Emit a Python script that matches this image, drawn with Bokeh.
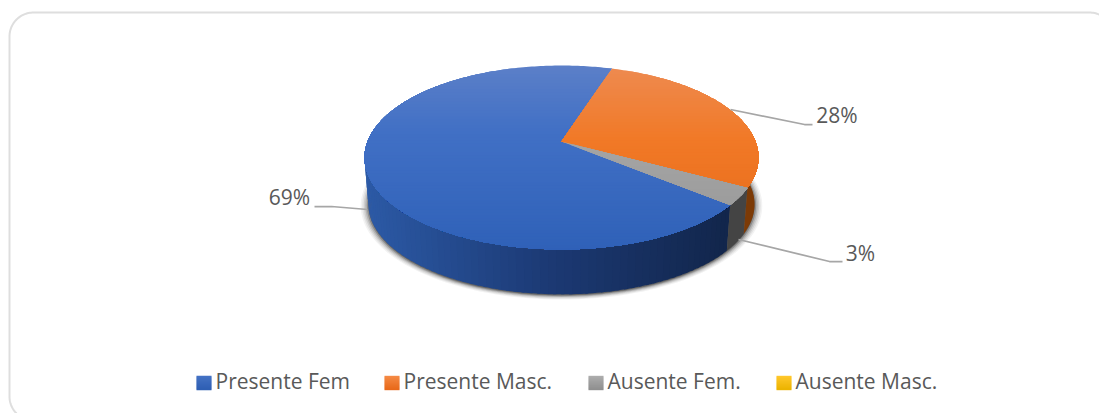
import math
from bokeh.plotting import figure
from bokeh.models import Range1d
from bokeh.core.properties import value
from bokeh.embed import file_html
from bokeh.resources import INLINE

# ---- data
categories = ["Presente Fem", "Presente Masc.", "Ausente Fem.", "Ausente Masc."]
shares = [69, 28, 3, 0]
labels = ["69%", "28%", "3%"]
legend_top = ["#4472c4", "#f58a45", "#adadad", "#ffc72c"]
legend_bot = ["#2f5fb3", "#e8691a", "#8f8f8f", "#ecb400"]

W, H = 1099, 413
p = figure(width=W, height=H, output_backend="svg", toolbar_location=None,
           x_range=Range1d(0, W), y_range=Range1d(H, 0),
           min_border=0, outline_line_color=None, background_fill_color="white",
           border_fill_color="white")
p.axis.visible = False
p.grid.visible = False

# ---- projection of the pie disc (perspective seen from above)
CX, CY, A, B, K, DEPTH, SHRINK = 561.0, 141.0, 194.0, 89.2, 0.174, 47.0, 0.98
START = 17.7


def proj(deg, r=1.0, low=False):
    t = math.radians(deg)
    u, v = r * math.sin(t), -r * math.cos(t)
    w = 1 - K * v
    x, y = A * u / w, B * v / w
    if low:
        return CX + x * SHRINK, CY + DEPTH + y * SHRINK
    return CX + x, CY + y


def arc(a0, a1, low=False, r=1.0, n=None):
    n = n or max(2, int(abs(a1 - a0) / 1.0))
    return [proj(a0 + (a1 - a0) * i / n, r, low) for i in range(n + 1)]


def mix(c0, c1, f):
    f = max(0.0, min(1.0, f))
    rgb = [round(a + (b - a) * f) for a, b in zip(c0, c1)]
    return "#%02x%02x%02x" % tuple(rgb)


def clip_below(pts, y0):
    """Keep the part of a polygon whose y is at least y0."""
    out = []
    for i, (x1, y1) in enumerate(pts):
        x2, y2 = pts[(i + 1) % len(pts)]
        if y1 >= y0:
            out.append((x1, y1))
        if (y1 >= y0) != (y2 >= y0):
            f = (y0 - y1) / (y2 - y1)
            out.append((x1 + (x2 - x1) * f, y0))
    return out


def poly(pts, color, alpha=1.0):
    p.patch([a for a, _ in pts], [b for _, b in pts], fill_color=color,
            fill_alpha=alpha, line_color=None)


# ---- slice angles from the shares, clockwise from START
total = sum(shares)
a_orange = (START, START + shares[1] / total * 360)
a_grey = (a_orange[1], a_orange[1] + shares[2] / total * 360)
a_blue = (a_grey[1], START + 360)

# ---- soft shadow under the pie
for grow, alpha in [(1.04, 0.05), (1.032, 0.07), (1.024, 0.10), (1.016, 0.15), (1.008, 0.25), (1.0, 0.35)]:
    pts = []
    for i in range(0, 361, 2):
        x, y = proj(i, 1.0, True)
        pts.append((CX + (x - CX) * grow, CY + DEPTH + 1 + (y - CY - DEPTH) * grow))
    poly(pts, "#1a1a1a", alpha)

# ---- sides (front of the rim)
SIDE_L, SIDE_M, SIDE_R = (44, 90, 166), (28, 58, 117), (18, 38, 76)
st = 2.0
a = a_blue[0]
while a < 290:
    b = min(a + st + 0.8, 290)
    x, _ = proj(a + st / 2)
    f = (x - 363) / (725 - 363)
    col = mix(SIDE_L, SIDE_M, f * 2) if f < 0.5 else mix(SIDE_M, SIDE_R, (f - 0.5) * 2)
    poly(arc(a, b, n=3) + arc(b, a, True, n=3), col)
    a += st
poly(arc(a_grey[0], a_grey[1]) + arc(a_grey[1], a_grey[0], True), "#444444")
poly(arc(80, a_orange[1]) + arc(a_orange[1], 80, True), "#7c3a06")


# ---- top face with vertical gradients, painted from top to bottom
def wedge(a0, a1):
    return [(CX, CY)] + arc(a0, a1)


def gradient_face(pts, stops):
    ys = [q[1] for q in pts]
    top, bottom = min(ys), max(ys)
    y = top
    while y < bottom:
        t = (y - 65) / (249 - 65)
        col = mix(stops[-1][1], stops[-1][1], 0)
        for (t0, c0), (t1, c1) in zip(stops, stops[1:]):
            if t <= t1:
                col = mix(c0, c1, (t - t0) / (t1 - t0))
                break
        band = clip_below(pts, y)
        if len(band) > 2:
            poly(band, col)
        y += 3


gradient_face(wedge(*a_blue), [(0.0, (91, 127, 200)), (0.35, (65, 112, 197)),
                               (1.0, (47, 97, 184))])
gradient_face(wedge(*a_orange), [(0.0, (238, 138, 80)), (0.4, (241, 121, 38)),
                                 (1.0, (230, 105, 26))])
gradient_face(wedge(*a_grey), [(0.0, (175, 175, 175)), (1.0, (150, 150, 150))])

# ---- leader lines
LEAD = "#a6a6a6"
p.line([730, 804, 812], [109, 124, 124], line_color=LEAD, line_width=1.75)
p.line([738, 829, 842], [239, 261, 261], line_color=LEAD, line_width=1.75)
p.line([314, 331, 367], [206, 206, 209], line_color=LEAD, line_width=1.75)

TXT = "#595959"
font = value("Open Sans")
SIZE = "21px"
p.text(x=[836.5], y=[114], text=[labels[1]], text_font=font, text_font_size=SIZE,
       text_color=TXT, text_align="center", text_baseline="middle")
p.text(x=[860], y=[252], text=[labels[2]], text_font=font, text_font_size=SIZE,
       text_color=TXT, text_align="center", text_baseline="middle")
p.text(x=[289], y=[196], text=[labels[0]], text_font=font, text_font_size=SIZE,
       text_color=TXT, text_align="center", text_baseline="middle")

# ---- legend
LEG_X = [196, 384, 588, 776]
for name, x0, c0, c1 in zip(categories, LEG_X, legend_top, legend_bot):
    for i in range(14):
        p.rect(x=[x0 + 7.5], y=[375.5 + i + 0.5], width=15, height=1.4,
               fill_color=mix(tuple(int(c0[j:j + 2], 16) for j in (1, 3, 5)),
                              tuple(int(c1[j:j + 2], 16) for j in (1, 3, 5)), i / 13),
               line_color=None)
    p.text(x=[x0 + 19], y=[380], text=[name], text_font=font, text_font_size=SIZE,
           text_color=TXT, text_align="left", text_baseline="middle")

# ---- rounded border of the chart area
R = 24
LEFT, TOP, RIGHT, BOTTOM = 9, 12, 1113, 420
xs, ys = [], []
for cx, cy, a0 in [(LEFT + R, TOP + R, 180), (RIGHT - R, TOP + R, 270)]:
    for i in range(31):
        t = math.radians(a0 + 90 * i / 30)
        xs.append(cx + R * math.cos(t))
        ys.append(cy + R * math.sin(t))
for cx, cy, a0 in [(RIGHT - R, BOTTOM - R, 0), (LEFT + R, BOTTOM - R, 90)]:
    for i in range(31):
        t = math.radians(a0 + 90 * i / 30)
        xs.append(cx + R * math.cos(t))
        ys.append(cy + R * math.sin(t))
p.line(xs + xs[:1], ys + ys[:1], line_color="#dedede", line_width=2)

open("out.html", "w").write(file_html(p, INLINE))
